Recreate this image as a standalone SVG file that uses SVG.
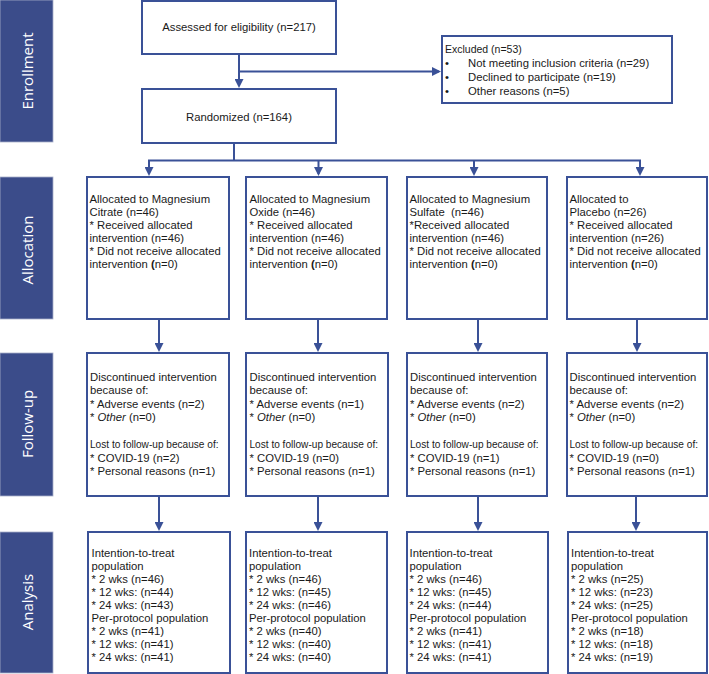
<svg xmlns="http://www.w3.org/2000/svg" width="709" height="674" viewBox="0 0 709 674">
<style>
.bar{fill:#3b4c8a;stroke:#a7aec8;stroke-width:0.8}
.bt{font-family:"Open Sans","DejaVu Sans",sans-serif;font-size:15px;fill:#ffffff;text-anchor:middle}
.box{fill:#ffffff;stroke:#3a5197;stroke-width:2}
.t{font-family:"Liberation Sans",Arial,sans-serif;font-size:11.3px;fill:#1a1a1a}
.s{font-size:10.1px}
.c{text-anchor:middle}
.ln{fill:none;stroke:#3a5197;stroke-width:2}
.ar{fill:none;stroke:#3a5197;stroke-width:2;marker-end:url(#ah)}
</style>
<defs>
<marker id="ah" viewBox="0 0 10 10" refX="7.8" refY="5" markerWidth="9" markerHeight="9" markerUnits="userSpaceOnUse" orient="auto">
<path d="M0,0 L10,5 L0,10 z" fill="#3a5197"/>
</marker>
</defs>

<g id="phases">
<g id="phase-enrollment"><rect class="bar" x="0" y="0" width="53" height="142"/><text class="bt" transform="translate(33,71) rotate(-90)">Enrollment</text></g>
<g id="phase-allocation"><rect class="bar" x="0" y="177" width="53" height="142"/><text class="bt" transform="translate(33,250) rotate(-90)">Allocation</text></g>
<g id="phase-followup"><rect class="bar" x="0" y="353" width="53" height="143"/><text class="bt" transform="translate(33,424) rotate(-90)">Follow-up</text></g>
<g id="phase-analysis"><rect class="bar" x="0" y="532" width="53" height="141"/><text class="bt" transform="translate(33,602) rotate(-90)">Analysis</text></g>
</g>

<g id="connectors">
<line class="ar" x1="239" y1="54" x2="239" y2="86"/>
<line class="ar" x1="239" y1="71.5" x2="439" y2="71.5"/>
<line class="ln" x1="234" y1="143" x2="234" y2="160.5"/>
<line class="ln" x1="148" y1="160.5" x2="641" y2="160.5"/>
<line class="ar" x1="149" y1="160.5" x2="149" y2="174"/>
<line class="ar" x1="318.5" y1="160.5" x2="318.5" y2="174"/>
<line class="ar" x1="474" y1="160.5" x2="474" y2="174"/>
<line class="ar" x1="640" y1="160.5" x2="640" y2="174"/>
<line class="ar" x1="159" y1="319" x2="159" y2="350"/>
<line class="ar" x1="318" y1="319" x2="318" y2="350"/>
<line class="ar" x1="478" y1="319" x2="478" y2="350"/>
<line class="ar" x1="637" y1="319" x2="637" y2="350"/>
<line class="ar" x1="159" y1="496" x2="159" y2="529"/>
<line class="ar" x1="318" y1="496" x2="318" y2="529"/>
<line class="ar" x1="478" y1="496" x2="478" y2="529"/>
<line class="ar" x1="636" y1="496" x2="636" y2="529"/>
</g>

<g id="assessed"><rect class="box" x="142" y="1" width="194" height="53"/><text class="t c" x="239" y="31">Assessed for eligibility (n=217)</text></g>

<g id="excluded"><rect class="box" x="442" y="36" width="230" height="67"/>
<text class="t" x="445" y="53" style="font-size:10.5px">Excluded (n=53)</text>
<text class="t" x="445" y="67">•</text><text class="t" x="468" y="67">Not meeting inclusion criteria (n=29)</text>
<text class="t" x="445" y="81">•</text><text class="t" x="468" y="81">Declined to participate (n=19)</text>
<text class="t" x="445" y="95">•</text><text class="t" x="468" y="95">Other reasons (n=5)</text>
</g>

<g id="randomized"><rect class="box" x="142" y="89" width="194" height="54"/><text class="t c" x="239" y="121">Randomized (n=164)</text></g>

<g id="alloc-citrate"><rect class="box" x="87" y="177" width="142" height="142"/>
<text class="t" x="89.5" y="203">Allocated to Magnesium</text>
<text class="t" x="89.5" y="216">Citrate (n=46)</text>
<text class="t" x="89.5" y="229">* Received allocated</text>
<text class="t" x="89.5" y="242">intervention (n=46)</text>
<text class="t" x="89.5" y="255">* Did not receive allocated</text>
<text class="t" x="89.5" y="268">intervention <tspan font-weight="bold">(</tspan>n=0)</text>
</g>
<g id="alloc-oxide"><rect class="box" x="246" y="177" width="141" height="142"/>
<text class="t" x="249.5" y="203">Allocated to Magnesium</text>
<text class="t" x="249.5" y="216">Oxide (n=46)</text>
<text class="t" x="249.5" y="229">* Received allocated</text>
<text class="t" x="249.5" y="242">intervention (n=46)</text>
<text class="t" x="249.5" y="255">* Did not receive allocated</text>
<text class="t" x="249.5" y="268">intervention <tspan font-weight="bold">(</tspan>n=0)</text>
</g>
<g id="alloc-sulfate"><rect class="box" x="407" y="177" width="140" height="142"/>
<text class="t" x="409.5" y="203">Allocated to Magnesium</text>
<text class="t" x="409.5" y="216" xml:space="preserve">Sulfate  (n=46)</text>
<text class="t" x="409.5" y="229">*Received allocated</text>
<text class="t" x="409.5" y="242">intervention (n=46)</text>
<text class="t" x="409.5" y="255">* Did not receive allocated</text>
<text class="t" x="409.5" y="268">intervention <tspan font-weight="bold">(</tspan>n=0)</text>
</g>
<g id="alloc-placebo"><rect class="box" x="567" y="177" width="140" height="142"/>
<text class="t" x="569.5" y="203">Allocated to</text>
<text class="t" x="569.5" y="216">Placebo (n=26)</text>
<text class="t" x="569.5" y="229">* Received allocated</text>
<text class="t" x="569.5" y="242">intervention (n=26)</text>
<text class="t" x="569.5" y="255">* Did not receive allocated</text>
<text class="t" x="569.5" y="268">intervention <tspan font-weight="bold">(</tspan>n=0)</text>
</g>

<g id="fu-citrate"><rect class="box" x="87" y="353" width="142" height="143"/>
<text class="t" x="90" y="381">Discontinued intervention</text>
<text class="t" x="90" y="394">because of:</text>
<text class="t" x="90" y="407.5">* Adverse events (n=2)</text>
<text class="t" x="90" y="421">* <tspan font-style="italic">Other</tspan> (n=0)</text>
<text class="t s" x="90" y="448">Lost to follow-up because of:</text>
<text class="t" x="90" y="462">* COVID-19 (n=2)</text>
<text class="t" x="90" y="475">* Personal reasons (n=1)</text>
</g>
<g id="fu-oxide"><rect class="box" x="246" y="353" width="142" height="143"/>
<text class="t" x="249.5" y="381">Discontinued intervention</text>
<text class="t" x="249.5" y="394">because of:</text>
<text class="t" x="249.5" y="407.5">* Adverse events (n=1)</text>
<text class="t" x="249.5" y="421">* <tspan font-style="italic">Other</tspan> (n=0)</text>
<text class="t s" x="249.5" y="448">Lost to follow-up because of:</text>
<text class="t" x="249.5" y="462">* COVID-19 (n=0)</text>
<text class="t" x="249.5" y="475">* Personal reasons (n=1)</text>
</g>
<g id="fu-sulfate"><rect class="box" x="407" y="353" width="140" height="143"/>
<text class="t" x="410" y="381">Discontinued intervention</text>
<text class="t" x="410" y="394">because of:</text>
<text class="t" x="410" y="407.5">* Adverse events (n=2)</text>
<text class="t" x="410" y="421">* <tspan font-style="italic">Other</tspan> (n=0)</text>
<text class="t s" x="410" y="448">Lost to follow-up because of:</text>
<text class="t" x="410" y="462">* COVID-19 (n=1)</text>
<text class="t" x="410" y="475">* Personal reasons (n=1)</text>
</g>
<g id="fu-placebo"><rect class="box" x="567" y="353" width="140" height="143"/>
<text class="t" x="569.5" y="381">Discontinued intervention</text>
<text class="t" x="569.5" y="394">because of:</text>
<text class="t" x="569.5" y="407.5">* Adverse events (n=2)</text>
<text class="t" x="569.5" y="421">* <tspan font-style="italic">Other</tspan> (n=0)</text>
<text class="t s" x="569.5" y="448">Lost to follow-up because of:</text>
<text class="t" x="569.5" y="462">* COVID-19 (n=0)</text>
<text class="t" x="569.5" y="475">* Personal reasons (n=1)</text>
</g>

<g id="an-citrate"><rect class="box" x="88" y="532" width="142" height="141"/>
<text class="t" x="91.5" y="557">Intention-to-treat</text>
<text class="t" x="91.5" y="570">population</text>
<text class="t" x="91.5" y="583">* 2 wks (n=46)</text>
<text class="t" x="91.5" y="596">* 12 wks: (n=44)</text>
<text class="t" x="91.5" y="608.5">* 24 wks: (n=43)</text>
<text class="t" x="91.5" y="621.5">Per-protocol population</text>
<text class="t" x="91.5" y="634.5">* 2 wks (n=41)</text>
<text class="t" x="91.5" y="647.5">* 12 wks: (n=41)</text>
<text class="t" x="91.5" y="660.5">* 24 wks: (n=41)</text>
</g>
<g id="an-oxide"><rect class="box" x="246" y="532" width="141" height="141"/>
<text class="t" x="249" y="557">Intention-to-treat</text>
<text class="t" x="249" y="570">population</text>
<text class="t" x="249" y="583">* 2 wks (n=46)</text>
<text class="t" x="249" y="596">* 12 wks: (n=45)</text>
<text class="t" x="249" y="608.5">* 24 wks: (n=46)</text>
<text class="t" x="249" y="621.5">Per-protocol population</text>
<text class="t" x="249" y="634.5">* 2 wks (n=40)</text>
<text class="t" x="249" y="647.5">* 12 wks: (n=40)</text>
<text class="t" x="249" y="660.5">* 24 wks: (n=40)</text>
</g>
<g id="an-sulfate"><rect class="box" x="407" y="532" width="141" height="141"/>
<text class="t" x="409.5" y="557">Intention-to-treat</text>
<text class="t" x="409.5" y="570">population</text>
<text class="t" x="409.5" y="583">* 2 wks (n=46)</text>
<text class="t" x="409.5" y="596">* 12 wks: (n=45)</text>
<text class="t" x="409.5" y="608.5">* 24 wks: (n=44)</text>
<text class="t" x="409.5" y="621.5">Per-protocol population</text>
<text class="t" x="409.5" y="634.5">* 2 wks (n=41)</text>
<text class="t" x="409.5" y="647.5">* 12 wks: (n=41)</text>
<text class="t" x="409.5" y="660.5">* 24 wks: (n=41)</text>
</g>
<g id="an-placebo"><rect class="box" x="568" y="532" width="139" height="141"/>
<text class="t" x="571" y="557">Intention-to-treat</text>
<text class="t" x="571" y="570">population</text>
<text class="t" x="571" y="583">* 2 wks (n=25)</text>
<text class="t" x="571" y="596">* 12 wks: (n=23)</text>
<text class="t" x="571" y="608.5">* 24 wks: (n=25)</text>
<text class="t" x="571" y="621.5">Per-protocol population</text>
<text class="t" x="571" y="634.5">* 2 wks (n=18)</text>
<text class="t" x="571" y="647.5">* 12 wks: (n=18)</text>
<text class="t" x="571" y="660.5">* 24 wks: (n=19)</text>
</g>
</svg>
